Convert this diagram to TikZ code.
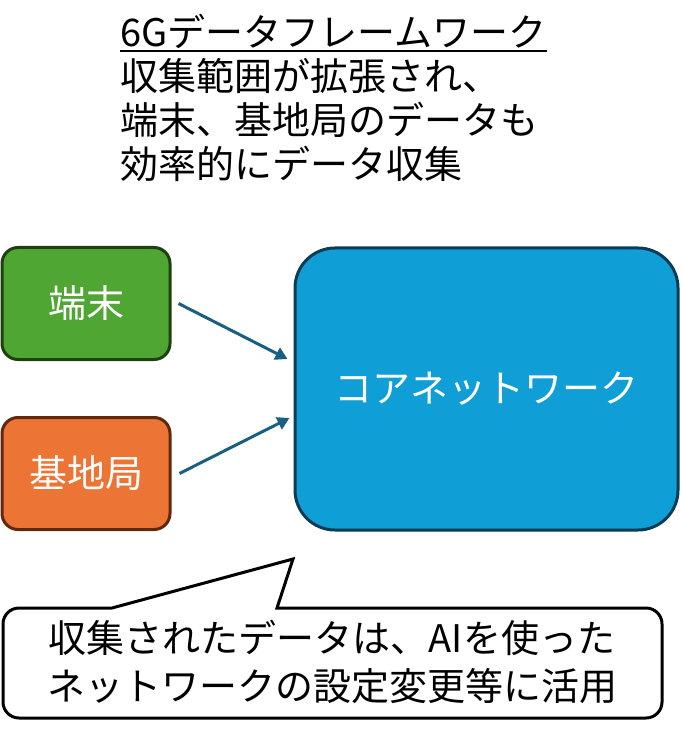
\documentclass[tikz,border=0pt]{standalone}
\usepackage{fontspec}
\setmainfont{Noto Sans CJK JP}
\usetikzlibrary{arrows.meta,positioning}
\definecolor{leaf}{RGB}{80,166,50}
\definecolor{leafdark}{RGB}{30,65,15}
\definecolor{rust}{RGB}{236,116,52}
\definecolor{rustdark}{RGB}{95,40,15}
\definecolor{sky}{RGB}{16,158,214}
\definecolor{skydark}{RGB}{10,60,85}
\definecolor{wire}{RGB}{25,95,130}
\newcommand\headul[1]{\leavevmode\vtop{\hbox{#1}\kern0.6pt\hrule height 1pt}}
\tikzset{
  >={Triangle[length=6pt,width=6.5pt]},
  jp/.style={font=\fontsize{19pt}{24pt}\selectfont},
  unit/.style={draw=#1dark,fill=#1,line width=1.5pt,rounded corners=8pt,
    minimum width=84pt,minimum height=56pt,inner sep=0pt,text=white,jp},
  unit/.default=leaf,
  core/.style={draw=skydark,fill=sky,line width=1.5pt,rounded corners=20pt,
    minimum width=191.5pt,minimum height=141pt,inner sep=0pt,text=white,jp},
  flow/.style={->,line width=1.5pt,draw=wire},
  balloon/.style={draw=black,fill=white,line width=1.5pt},
  heading/.style={font=\fontsize{19pt}{22pt}\selectfont,align=left,inner sep=0pt},
}
\begin{document}
\begin{tikzpicture}[x=0.5pt,y=-0.5pt]
  \useasboundingbox (0,0) rectangle (680,731);
  % title
  \node[heading,anchor=north west] (head) at (120,14)
    {\headul{6Gデータフレームワーク}\\収集範囲が拡張され、\\端末、基地局のデータも\\効率的にデータ収集};
  % sources and core
  \node[unit=leaf] (term) at (86,303.5) {端末};
  \node[unit=rust] (base) at (86,473.5) {基地局};
  \node[core] (net) at (486.5,389) {コアネットワーク};
  \draw[flow] ([xshift=3.5pt]term.east) -- ([xshift=-3pt,yshift=15pt]net.west);
  \draw[flow] ([xshift=4pt]base.east) -- ([xshift=-2pt,yshift=-14.5pt]net.west);
  % callout
  \draw[balloon] (112,608) -- (293,559) -- (277,608) [rounded corners=8pt] -- (662,608)
    -- (662,718) -- (3,718) -- (3,608) [sharp corners] -- cycle;
  \node[jp,align=center,inner sep=0pt] (msg) at (332,662)
    {収集されたデータは、AIを使った\\ネットワークの設定変更等に活用};
\end{tikzpicture}
\end{document}
